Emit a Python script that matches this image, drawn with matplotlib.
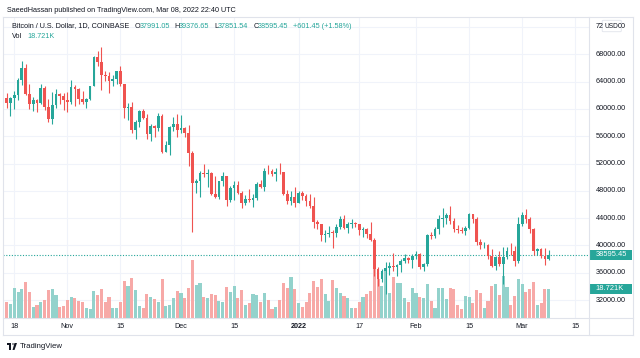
import matplotlib
matplotlib.use("Agg")
import matplotlib.pyplot as plt
from matplotlib.patches import Rectangle, FancyBboxPatch, Circle, Polygon
from matplotlib.lines import Line2D
import numpy as np

W, H = 640, 358

# daily candles, Oct 16 2021 .. Mar 08 2022 (day index 0..143)
opens = [61540, 60870, 61530, 62040, 64280, 66000, 62200, 60690, 61300, 60850,
         63080, 60330, 58450, 60580, 62250, 61850, 61320, 61000, 63230, 62940,
         61410, 61000, 61520, 63290, 67540, 66930, 64900, 64800, 64150, 64400,
         65500, 63600, 60100, 60350, 56900, 58100, 59700, 58700, 56300, 57550,
         57150, 58950, 53700, 54750, 57300, 57800, 56950, 57200, 56500, 53600,
         49200, 49400, 50580, 50470, 50650, 47600, 47140, 49400, 50100, 46720,
         48400, 48900, 47640, 46200, 46870, 46700, 46880, 48940, 48630, 50840,
         50830, 50430, 50800, 50700, 47540, 46470, 47150, 46210, 47740, 47300,
         46450, 45830, 43430, 43100, 41550, 41700, 41860, 41830, 42740, 43920,
         42590, 43100, 43180, 43100, 42240, 42380, 41690, 40720, 36480, 35100,
         36300, 36700, 36950, 36850, 37150, 37700, 38150, 37920, 38480, 38700,
         36900, 37330, 41570, 41400, 42400, 43850, 44050, 44400, 43550, 42400,
         42200, 42070, 42550, 44570, 43880, 40550, 40000, 40100, 38380, 37010,
         38260, 37260, 38330, 39220, 39120, 37700, 43190, 44420, 43910, 42460,
         39140, 39400, 38420, 37991.05]
highs = [62300, 61700, 62650, 64500, 67000, 66650, 63700, 61750, 61480, 63700,
         63300, 61500, 62500, 62950, 62300, 62400, 62450, 64250, 63500, 63100,
         62600, 61550, 63300, 67800, 68500, 69000, 65600, 65450, 64950, 65500,
         66300, 63600, 60800, 60950, 58350, 59850, 60050, 59300, 57850, 57700,
         59400, 59200, 55300, 57450, 58850, 59200, 59050, 57400, 57600, 53900,
         49700, 50900, 51950, 51200, 50800, 50100, 49500, 50800, 50200, 48700,
         49500, 49450, 48000, 47350, 48300, 47550, 49350, 49550, 51380, 51850,
         51200, 51300, 52100, 50700, 48150, 47900, 48550, 47950, 47980, 47560,
         47500, 47070, 43750, 43150, 42300, 42800, 42250, 43100, 44300, 44450,
         43450, 43800, 43450, 43200, 42700, 42550, 43500, 41100, 36850, 36550,
         37550, 37550, 38900, 37250, 38000, 38700, 38350, 38700, 39250, 38850,
         37400, 41700, 41950, 42650, 44500, 45500, 44800, 45800, 43950, 43000,
         42750, 42880, 44750, 44600, 44200, 40950, 40450, 40150, 39500, 38450,
         39250, 39750, 39700, 40300, 39850, 44200, 44950, 45400, 44100, 42500,
         39650, 39650, 39550, 39376.65]
lows = [60100, 58950, 60000, 61330, 63500, 62000, 60000, 59700, 59500, 60650,
        59850, 58100, 57800, 60200, 60700, 59900, 59550, 60700, 60400, 60700,
        60750, 60100, 61350, 63290, 66350, 62800, 64100, 62300, 63400, 63600,
        63400, 58600, 58400, 56500, 55600, 57400, 58500, 55650, 55300, 55900,
        56800, 53500, 53650, 53300, 56700, 55900, 56500, 55850, 51700, 42000,
        47700, 47100, 50050, 48600, 47350, 46950, 46800, 48700, 45700, 46300,
        46600, 47550, 45500, 45950, 46400, 45600, 46650, 48450, 47950, 50450,
        50200, 49450, 50500, 47350, 46100, 45900, 45650, 46200, 46650, 45700,
        45500, 42500, 42450, 40650, 40500, 41230, 39650, 41300, 42450, 42350,
        41850, 42600, 42650, 41550, 41300, 41150, 40650, 35500, 34000, 34650,
        32950, 35700, 36250, 35500, 36150, 37350, 37350, 36650, 38000, 36600,
        36250, 37050, 40950, 41100, 41650, 42650, 43150, 43200, 42000, 41750,
        41850, 41550, 42450, 43350, 40100, 39450, 39650, 38000, 36800, 36350,
        37050, 34300, 38000, 38550, 37000, 37450, 42850, 43350, 41850, 38600,
        38650, 38100, 37150, 37851.54]
closes = [60870, 61530, 62040, 64280, 66000, 62200, 60690, 61300, 60850, 63080,
          60330, 58450, 60580, 62250, 61850, 61320, 61000, 63230, 62940, 61410,
          61000, 61520, 63290, 67540, 66930, 64900, 64800, 64150, 64400, 65500,
          63600, 60100, 60350, 56900, 58100, 59700, 58700, 56300, 57550, 57150,
          58950, 53700, 54750, 57300, 57800, 56950, 57200, 56500, 53600, 49200,
          49400, 50580, 50470, 50650, 47600, 47140, 49400, 50100, 46720, 48400,
          48900, 47640, 46200, 46870, 46700, 46880, 48940, 48630, 50840, 50830,
          50430, 50800, 50700, 47540, 46470, 47150, 46210, 47740, 47300, 46450,
          45830, 43430, 43100, 41550, 41700, 41860, 41830, 42740, 43920, 42590,
          43100, 43180, 43100, 42240, 42380, 41690, 40720, 36480, 35100, 36300,
          36700, 36950, 36850, 37150, 37700, 38150, 37920, 38480, 38700, 36900,
          37330, 41570, 41400, 42400, 43850, 44050, 44400, 43550, 42400, 42200,
          42070, 42550, 44570, 43880, 40550, 40000, 40100, 38380, 37010, 38260,
          37260, 38330, 39220, 39120, 37700, 43190, 44420, 43910, 42460, 39140,
          39400, 38420, 37990, 38595.45]
volumes = [10.1, 9.0, 19.1, 16.8, 18.5, 23.0, 16.6, 6.9, 8.4, 10.1,
           11.8, 18.3, 18.7, 15.0, 6.9, 8.0, 11.4, 13.5, 12.7, 11.0,
           10.5, 6.5, 5.6, 17.2, 14.6, 18.5, 10.1, 13.3, 6.2, 6.2,
           10.1, 24.1, 20.4, 25.6, 18.1, 7.7, 6.7, 15.5, 13.8, 12.0,
           10.5, 25.0, 7.7, 8.2, 12.9, 17.4, 16.1, 12.7, 19.1, 37.4,
           21.3, 22.4, 13.8, 12.9, 15.5, 15.0, 11.0, 10.3, 20.0, 16.8,
           20.6, 12.7, 17.8, 8.2, 9.5, 15.5, 15.0, 10.5, 16.3, 11.4,
           5.8, 7.1, 11.4, 22.6, 19.6, 26.7, 18.5, 9.5, 6.9, 10.5,
           15.9, 24.1, 20.2, 25.2, 15.3, 11.0, 24.5, 19.1, 15.9, 14.2,
           12.9, 6.5, 6.5, 10.5, 13.5, 15.3, 17.6, 34.0, 25.0, 20.6,
           30.0, 16.0, 26.7, 22.8, 22.4, 12.7, 10.5, 19.1, 15.9, 13.3,
           12.7, 21.7, 11.0, 6.5, 19.6, 19.6, 12.5, 19.6, 18.7, 8.4,
           6.0, 14.2, 13.8, 9.5, 18.1, 15.9, 6.5, 11.0, 20.4, 21.9,
           15.0, 27.0, 20.0, 8.4, 14.2, 25.0, 21.9, 17.0, 18.7, 23.2,
           8.4, 9.9, 18.7, 18.721]

tick_days = [2, 16, 30, 46, 60, 77, 93, 108, 122, 136, 150]
tick_labels = ["18", "Nov", "15", "Dec", "15", "2022", "17", "Feb", "15", "Mar", "15"]
price_ticks = list(range(32000, 72001, 4000))
last_price = 38595.45

UP, DOWN = "#26a69a", "#ef5350"
UP_V, DOWN_V = "#93d2cc", "#f7a9a7"
GRID = "#f0f3fa"
BORDER = "#e0e3eb"
TXT = "#131722"

plt.rcParams["font.family"] = ["Liberation Sans", "DejaVu Sans"]


def fx(x):
    return x / W


def fy(y):
    return 1 - y / H


def px_to_price(y):
    return 72000 - (y - 27) / 0.006825


def py_price(p):
    return 27 + (72000 - p) * 0.006825


fig = plt.figure(figsize=(6.4, 3.58), dpi=100)
fig.patch.set_facecolor("white")

pos = [fx(3), fy(318), fx(589) - fx(3), fy(18) - fy(318)]
xlim = ((3 - 6.7) / 3.79, (589 - 6.7) / 3.79)

# volume pane (behind)
axv = fig.add_axes(pos)
axv.set_xlim(*xlim)
axv.set_ylim(0, 300 * 0.645)
axv.axis("off")

# price pane
ax = fig.add_axes(pos)
ax.set_xlim(*xlim)
ax.set_ylim(px_to_price(318), px_to_price(18))
ax.patch.set_alpha(0)
ax.axis("off")

days = np.arange(len(closes))
o = np.array(opens)
c = np.array(closes)
up = c >= o
cols = np.where(up, UP, DOWN)
vcols = np.where(up, UP_V, DOWN_V)

for p in price_ticks:
    axv.axhline((p - px_to_price(318)) / (px_to_price(18) - px_to_price(318)) * 300 * 0.645,
                color=GRID, lw=0.8, zorder=0)
for d in tick_days:
    axv.axvline(d, color=GRID, lw=0.8, zorder=0)

axv.bar(days, volumes, width=0.82, color=vcols, linewidth=0, zorder=1)

ax.axhline(last_price, color=UP, lw=0.8, ls=(0, (1, 1.5)), zorder=1)
ax.vlines(days, lows, highs, colors=cols, lw=0.8, zorder=2)
body_h = np.maximum(np.abs(c - o), 120)
ax.bar(days, body_h, bottom=np.minimum(o, c), width=0.72, color=cols,
       linewidth=0, zorder=3)


# frame lines
def fline(x1, y1, x2, y2, color=BORDER, lw=0.8):
    fig.add_artist(Line2D([fx(x1), fx(x2)], [fy(y1), fy(y2)], color=color, lw=lw))


fline(3, 17, 633, 17)
fline(3, 335, 633, 335)
fline(3, 17, 3, 335)
fline(633, 17, 633, 335)
fline(589, 17, 589, 335)
fline(3, 318, 633, 318)

# price axis labels (top one is partly covered by the USD badge)
for p in price_ticks[:-1]:
    fig.text(fx(595.5), fy(py_price(p)), f"{p}.00", fontsize=5.2, color=TXT,
             ha="left", va="center")
fig.text(fx(595.5), fy(py_price(72000)), "72", fontsize=5.2, color=TXT, ha="left", va="center")
fig.text(fx(626), fy(py_price(72000)), "00", fontsize=5.2, color=TXT, ha="right", va="center")
fig.add_artist(FancyBboxPatch((fx(603.5), fy(31)), fx(620) - fx(603.5), fy(21) - fy(31),
                              boxstyle="round,pad=0.002", fc="white", ec=BORDER, lw=0.6))
fig.text(fx(611.8), fy(26), "USD", fontsize=4.8, color=TXT, ha="center", va="center")


# last price and volume badges
def badge(y, label):
    fig.add_artist(Rectangle((fx(589), fy(y + 5)), fx(632) - fx(589), fy(y - 5) - fy(y + 5),
                             fc=UP, ec="none"))
    fig.text(fx(595.5), fy(y), label, fontsize=5.4, color="white", ha="left", va="center")


badge(py_price(last_price), "38595.45")
badge(289, "18.721K")

# time axis labels
for d, lab in zip(tick_days, tick_labels):
    xx = 6.7 + 3.79 * d
    fig.text(fx(xx), fy(326), lab, fontsize=5.2, color=TXT, ha="center", va="center",
             fontweight="bold" if lab == "2022" else "normal")

# header
fig.text(fx(7), fy(10), "SaeedHassan published on TradingView.com, Mar 08, 2022 22:40 UTC",
         fontsize=5.2, color=TXT, ha="left", va="center")

legend_parts = [(12, "Bitcoin / U.S. Dollar, 1D, COINBASE", TXT),
                (135, "O", TXT), (139.5, "37991.05", UP),
                (174.5, "H", TXT), (179, "39376.65", UP),
                (214, "L", TXT), (218, "37851.54", UP),
                (253.5, "C", TXT), (258, "38595.45", UP),
                (293, "+601.45 (+1.58%)", UP)]
for x, s, col in legend_parts:
    fig.text(fx(x), fy(26), s, fontsize=5.2, color=col, ha="left", va="center")
fig.text(fx(12), fy(37), "Vol", fontsize=5.2, color=TXT, ha="left", va="center")
fig.text(fx(27), fy(37), "18.721K", fontsize=5.2, color=UP, ha="left", va="center")

# footer logo
fig.add_artist(Rectangle((fx(7), fy(345)), fx(11) - fx(7), fy(343) - fy(345), fc=TXT, ec="none"))
fig.add_artist(Rectangle((fx(9), fy(350)), fx(11) - fx(9), fy(343) - fy(350), fc=TXT, ec="none"))
fig.add_artist(Circle((fx(13), fy(344)), 1.0 / W, fc=TXT, ec="none"))
fig.add_artist(Polygon([(fx(14.5), fy(343)), (fx(17), fy(343)), (fx(14.5), fy(350)), (fx(12.5), fy(350))],
                       closed=True, fc=TXT, ec="none"))
fig.text(fx(20), fy(346.5), "TradingView", fontsize=5.6, color=TXT, ha="left", va="center")

fig.savefig("out.png", dpi=100)
